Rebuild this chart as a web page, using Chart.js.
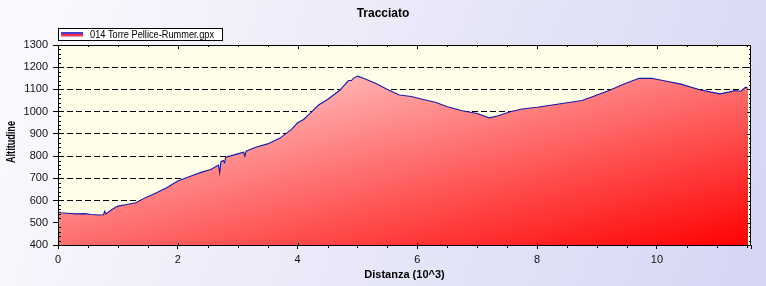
<!DOCTYPE html>
<html>
<head>
<meta charset="utf-8">
<script src="https://cdn.jsdelivr.net/npm/chart.js@4"></script>
<style>
  html, body { margin: 0; padding: 0; background: #e4e4f7; }
  #wrap { width: 766px; height: 286px; position: relative; }
</style>
</head>
<body>
<div id="wrap"><canvas id="myChart" width="766" height="286"></canvas></div>
<script>
// Profilo altimetrico (distanza in km, altitudine in m)
const seriesLabel = '014 Torre Pellice-Rummer.gpx';
const distanza = [
  0.00, 0.05, 0.15, 0.30, 0.45, 0.55, 0.70, 0.76, 0.78, 0.80, 0.90, 1.00,
  1.15, 1.30, 1.45, 1.60, 1.80, 2.00, 2.20, 2.40, 2.55, 2.68, 2.70, 2.72,
  2.76, 2.78, 2.80, 3.00, 3.10, 3.12, 3.14, 3.30, 3.50, 3.70, 3.90, 4.00,
  4.10, 4.20, 4.35, 4.50, 4.70, 4.85, 4.90, 4.93, 5.00, 5.10, 5.30, 5.50,
  5.70, 5.90, 6.10, 6.30, 6.50, 6.75, 7.00, 7.20, 7.35, 7.55, 7.75, 8.00,
  8.25, 8.50, 8.75, 9.00, 9.20, 9.45, 9.70, 9.90, 10.10, 10.40, 10.70, 10.90,
  11.05, 11.20, 11.30, 11.40, 11.48, 11.52
];
const altitudine = [
  550, 545, 543, 540, 541, 537, 535, 536, 552, 540, 560, 575,
  582, 590, 612, 630, 655, 688, 708, 728, 740, 760, 725, 775,
  780, 770, 795, 810, 818, 800, 822, 840, 855, 880, 920, 950,
  965, 990, 1030, 1055, 1095, 1140, 1140, 1150, 1160, 1150, 1128, 1100,
  1075, 1068, 1055, 1042, 1022, 1004, 992, 972, 982, 1000, 1012, 1020,
  1030, 1040, 1050, 1075, 1095, 1125, 1150, 1150, 1140, 1124, 1100, 1088,
  1080, 1088, 1095, 1092, 1110, 1105
];
const yMin = 400, yMax = 1300, yStep = 100, yMinor = 20;
const xMin = 0, xMax = 11.57, xStep = 2, xMinor = 0.5;

const FONT = "'Liberation Sans', Arial, sans-serif";

// testo compresso orizzontalmente fino alla larghezza voluta
function fitText(ctx, text, x, y, w) {
  const m = ctx.measureText(text).width;
  ctx.save();
  ctx.translate(x, y);
  ctx.scale(Math.min(1, w / m), 1);
  ctx.fillText(text, 0, 0);
  ctx.restore();
}

// sfondo, area del grafico, cornice, tacche secondarie, titolo e legenda
const decor = {
  id: 'decor',
  beforeDraw(chart) {
    const { ctx, chartArea: a, width, height } = chart;
    ctx.save();
    const bg = ctx.createLinearGradient(0, 0, width, height);
    bg.addColorStop(0, '#fbfbfe');
    bg.addColorStop(1, '#d6d6f4');
    ctx.fillStyle = bg;
    ctx.fillRect(0, 0, width, height);
    ctx.fillStyle = '#fefee9';
    ctx.fillRect(a.left, a.top, a.right - a.left, a.bottom - a.top);
    ctx.restore();
  },
  afterDatasetsDraw(chart) {
    const { ctx, chartArea: a, scales } = chart;
    const xs = scales.x, ys = scales.y;
    ctx.save();
    ctx.strokeStyle = '#000';
    ctx.lineWidth = 1;
    ctx.beginPath();
    // tacche asse y (sinistra e destra)
    for (let v = yMin; v <= yMax; v += yMinor) {
      const y = Math.round(ys.getPixelForValue(v)) + 0.5;
      const major = v % yStep === 0;
      if (!major) {
        ctx.moveTo(a.left, y); ctx.lineTo(a.left + 3, y);
      }
      ctx.moveTo(a.right, y); ctx.lineTo(a.right - (major ? 4 : 2), y);
    }
    // tacche asse x (sotto e sopra)
    for (let v = xMin; v <= xMax; v += xMinor) {
      const x = Math.round(xs.getPixelForValue(v)) + 0.5;
      const major = Math.abs(v % xStep) < 1e-6;
      if (!major) {
        ctx.moveTo(x, a.bottom); ctx.lineTo(x, a.bottom + 3);
      } else {
        ctx.moveTo(x, a.bottom); ctx.lineTo(x, a.bottom - 2);
      }
      ctx.moveTo(x, a.top); ctx.lineTo(x, a.top + (major ? 4 : 2));
    }
    ctx.stroke();
    ctx.strokeRect(a.left + 0.5, a.top + 0.5, a.right - a.left - 1, a.bottom - a.top);
    ctx.restore();
  },
  afterDraw(chart) {
    const { ctx, width, chartArea: a } = chart;
    ctx.save();
    ctx.fillStyle = '#000';
    ctx.textAlign = 'center';
    ctx.textBaseline = 'middle';
    ctx.font = 'bold 12px ' + FONT;
    ctx.fillText('Tracciato', width / 2, 14);
    // titolo asse y
    ctx.save();
    ctx.translate(12, (a.top + a.bottom) / 2 - 3);
    ctx.rotate(-Math.PI / 2);
    ctx.font = 'bold 12px ' + FONT;
    fitText(ctx, 'Altitudine', 0, 0, 42);
    ctx.restore();
    // legenda
    ctx.fillStyle = '#fff';
    ctx.fillRect(58, 28, 164, 13);
    ctx.strokeStyle = '#000';
    ctx.lineWidth = 1;
    ctx.strokeRect(58.5, 28.5, 164, 12);
    ctx.fillStyle = '#4a3ad0';
    ctx.fillRect(61, 32, 22, 2);
    ctx.fillStyle = '#f03050';
    ctx.fillRect(61, 34, 22, 2);
    ctx.fillStyle = '#f8a0a8';
    ctx.fillRect(61, 36, 22, 1);
    ctx.fillStyle = '#000';
    ctx.textAlign = 'left';
    ctx.font = '11px ' + FONT;
    fitText(ctx, chart.data.datasets[0].label, 90, 34.5, 124);
    ctx.restore();
  }
};

const ctx = document.getElementById('myChart').getContext('2d');
const chart = new Chart(ctx, {
  type: 'line',
  data: {
    datasets: [{
      label: seriesLabel,
      data: distanza.map((d, i) => ({ x: d, y: altitudine[i] })),
      borderColor: '#1818a8',
      borderWidth: 1.1,
      pointRadius: 0,
      tension: 0,
      fill: 'start',
      backgroundColor(c) {
        const a = c.chart.chartArea;
        if (!a) return '#ff8080';
        const g = c.chart.ctx.createLinearGradient(a.left, a.top, a.left + 81, a.top + 345);
        g.addColorStop(0, '#fff4f4');
        g.addColorStop(1, '#ff0000');
        return g;
      }
    }]
  },
  options: {
    responsive: false,
    animation: false,
    layout: { padding: { top: 45, right: 15, left: 0, bottom: 0 } },
    plugins: { legend: { display: false }, title: { display: false }, tooltip: { enabled: false } },
    scales: {
      x: {
        type: 'linear',
        min: xMin, max: xMax,
        afterFit(s) { s.height = 41; },
        border: { display: false },
        grid: { drawOnChartArea: false, drawTicks: true, tickLength: 4, color: '#000' },
        ticks: {
          stepSize: xStep, padding: 4, color: '#111',
          font: { family: FONT, size: 11 },
          maxRotation: 0,
          callback: v => v % xStep === 0 ? String(v) : ''
        },
        title: {
          display: true, text: 'Distanza (10^3)', color: '#000',
          font: { family: FONT, size: 11, weight: 'bold' }, padding: { top: 0, bottom: 4 }
        }
      },
      y: {
        min: yMin, max: yMax,
        afterFit(s) { s.width = 58; },
        border: { display: false, dash: [6, 3] },
        grid: {
          drawTicks: true, tickLength: 5,
          color: c => (c.tick && (c.tick.value === yMin || c.tick.value === yMax)) ? 'rgba(0,0,0,0)' : '#000',
          tickColor: '#000', lineWidth: 1
        },
        ticks: {
          stepSize: yStep, padding: 5, color: '#111',
          font: { family: FONT, size: 11 },
          callback: v => String(v)
        }
      }
    }
  },
  plugins: [decor]
});
</script>
</body>
</html>
